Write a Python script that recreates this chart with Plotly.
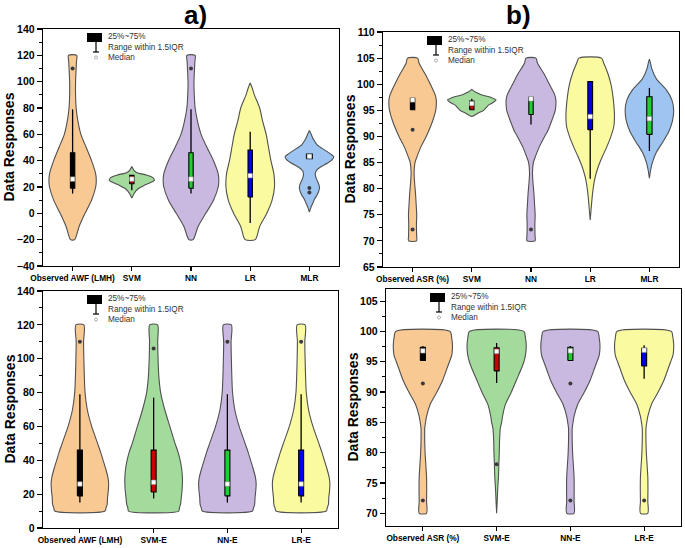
import plotly.graph_objects as go

# ---------------- DATA ----------------
# Panel a) AWF
a_cats = ["Observed AWF (LMH)", "SVM", "NN", "LR", "MLR"]
a_obs_y = [120, 115, 110, 100, 90, 80, 70, 60, 50, 40, 30, 25, 20, 10, 0, -10, -20]
a_obs_w = [0.07, 0.065, 0.06, 0.05, 0.05, 0.06, 0.09, 0.14, 0.23, 0.32, 0.39, 0.40, 0.39, 0.32, 0.21, 0.11, 0.035]
a_svm_y = [35.5, 33, 31, 29, 27, 25, 23, 21, 19, 17, 15, 13, 11.6]
a_svm_w = [0, 0.03, 0.08, 0.25, 0.36, 0.38, 0.30, 0.20, 0.12, 0.07, 0.04, 0.015, 0]
a_nn_y = [120, 115, 110, 100, 90, 80, 70, 60, 50, 40, 30, 25, 20, 10, 0, -10, -20]
a_nn_w = [0.07, 0.065, 0.06, 0.05, 0.055, 0.07, 0.11, 0.17, 0.27, 0.38, 0.46, 0.47, 0.46, 0.38, 0.25, 0.12, 0.035]
a_lr_y = [99, 95, 90, 80, 70, 60, 50, 40, 30, 20, 10, 0, -10, -20]
a_lr_w = [0, 0.035, 0.07, 0.16, 0.21, 0.27, 0.31, 0.35, 0.40, 0.41, 0.37, 0.28, 0.16, 0.085]
a_mlr_y = [63, 60, 56, 52, 48, 45, 43, 41, 38, 35, 32, 29, 26, 23, 20, 17, 14, 11, 8, 5, 1]
a_mlr_w = [0, 0.03, 0.07, 0.13, 0.26, 0.36, 0.41, 0.39, 0.30, 0.18, 0.11, 0.10, 0.12, 0.15, 0.17, 0.16, 0.13, 0.09, 0.06, 0.03, 0]
a_q1 = [19, 22.5, 19, 12.4, 41.5]
a_med = [26, 26, 26, 28.6, 43.3]
a_q3 = [46, 28.8, 46, 48, 45]
a_lo = [15, 17.5, 15, -7.4, 41.5]
a_hi = [79, 29, 79, 62, 45]
a_out = [[110], [], [110], [], [19.2, 15.9]]

# Panel b) ASR
b_cats = ["Observed ASR (%)", "SVM", "NN", "LR", "MLR"]
b_obs_y = [105, 104, 102, 100, 98, 97, 96, 95, 93, 91, 90, 88, 86, 85, 83, 81, 79, 77, 75, 73, 71, 70]
b_obs_w = [0.085, 0.11, 0.21, 0.30, 0.38, 0.40, 0.40, 0.39, 0.34, 0.27, 0.23, 0.14, 0.07, 0.04, 0.025, 0.035, 0.05, 0.06, 0.07, 0.065, 0.068, 0.068]
b_svm_y = [99.0, 98.5, 98.0, 97.5, 97.0, 96.5, 96.0, 95.5, 95.0, 94.5, 94.0, 93.8]
b_svm_w = [0, 0.06, 0.16, 0.32, 0.41, 0.36, 0.28, 0.24, 0.20, 0.11, 0.04, 0]
b_nn_y = [105, 104, 102, 100, 98, 97, 96, 95, 93, 91, 90, 88, 86, 85, 83, 81, 79, 77, 75, 73, 71, 70]
b_nn_w = [0.085, 0.11, 0.22, 0.31, 0.40, 0.42, 0.42, 0.41, 0.35, 0.28, 0.23, 0.14, 0.07, 0.04, 0.025, 0.035, 0.05, 0.06, 0.07, 0.065, 0.068, 0.068]
b_lr_y = [105, 104, 102, 100, 98, 96, 94, 92, 90, 88, 86, 84, 82, 80, 78, 76, 74]
b_lr_w = [0.19, 0.23, 0.30, 0.35, 0.38, 0.40, 0.41, 0.40, 0.35, 0.28, 0.20, 0.13, 0.08, 0.05, 0.03, 0.015, 0]
b_mlr_y = [104.8, 104, 103, 101, 99, 97, 95, 93, 91, 89, 87, 85, 83.5, 82]
b_mlr_w = [0, 0.02, 0.04, 0.12, 0.28, 0.38, 0.41, 0.39, 0.33, 0.23, 0.12, 0.05, 0.02, 0]
b_q1 = [95.1, 95.1, 94.2, 91.3, 90.4]
b_med = [97.0, 96.3, 97.2, 93.8, 93.4]
b_q3 = [97.3, 96.8, 97.5, 100.5, 97.6]
b_lo = [95.1, 95.1, 92.3, 81.9, 87.2]
b_hi = [97.4, 97.2, 97.5, 100.5, 99.3]
b_out = [[91.3, 72.2], [], [72.2], [], []]

# Panel c) AWF ensembles
c_cats = ["Observed AWF (LMH)", "SVM-E", "NN-E", "LR-E"]
c_obs_y = [120, 110, 100, 90, 80, 70, 60, 50, 45, 40, 35, 30, 26, 22, 18, 14, 12, 10]
c_obs_w = [0.055, 0.05, 0.054, 0.06, 0.07, 0.10, 0.16, 0.24, 0.28, 0.315, 0.35, 0.38, 0.39, 0.385, 0.375, 0.37, 0.355, 0.34]
c_svm_y = [120, 110, 100, 90, 80, 70, 60, 50, 45, 40, 35, 30, 26, 22, 18, 14, 12, 10]
c_svm_w = [0.054, 0.055, 0.06, 0.07, 0.095, 0.15, 0.22, 0.29, 0.33, 0.36, 0.38, 0.39, 0.39, 0.385, 0.375, 0.365, 0.35, 0.34]
c_nn_y = c_obs_y
c_nn_w = c_obs_w
c_lr_y = c_obs_y
c_lr_w = c_obs_w
c_q1 = [19, 21.3, 19, 19]
c_med = [26, 27, 26, 26]
c_q3 = [46, 46, 46, 46]
c_lo = [15, 17.5, 15, 15]
c_hi = [79, 77, 79, 79]
c_out = [[110], [106], [110], [110]]

# Panel d) ASR ensembles
d_cats = ["Observed ASR (%)", "SVM-E", "NN-E", "LR-E"]
d_obs_y = [100, 99, 98, 97, 96, 95, 94, 92, 90, 88, 86, 85, 84, 82, 80, 78, 76, 74, 72, 70]
d_obs_w = [0.37, 0.39, 0.40, 0.40, 0.39, 0.36, 0.33, 0.27, 0.19, 0.10, 0.05, 0.036, 0.025, 0.025, 0.03, 0.04, 0.05, 0.052, 0.05, 0.05]
d_svm_y = [100, 99, 98, 97, 96, 95, 94, 92, 90, 88, 86, 85, 84, 82, 80, 78, 76, 74, 72, 70]
d_svm_w = [0.37, 0.39, 0.40, 0.40, 0.39, 0.37, 0.34, 0.27, 0.20, 0.12, 0.08, 0.068, 0.05, 0.04, 0.036, 0.03, 0.025, 0.015, 0.008, 0]
d_nn_y = d_obs_y
d_nn_w = d_obs_w
d_lr_y = d_obs_y
d_lr_w = d_obs_w
d_q1 = [95.2, 93.5, 95.2, 94.3]
d_med = [96.8, 96.7, 96.8, 96.9]
d_q3 = [97.4, 97.3, 97.4, 97.2]
d_lo = [95.2, 91.5, 95.2, 92.2]
d_hi = [97.6, 98.1, 97.6, 97.7]
d_out = [[91.4, 72.1], [78.1], [91.4, 72.1], [72.1]]

# ---------------- STYLE ----------------
VIO_ORANGE = "#F9C994"
VIO_GREEN = "#A3DB9C"
VIO_PURPLE = "#C9B9E0"
VIO_YELLOW = "#FAFAA0"
VIO_BLUE = "#9EC5F1"
BOX_BLACK = "#000000"
BOX_RED = "#CC0000"
BOX_GREEN = "#22CC33"
BOX_BLUE = "#0000EE"
FONT = "Liberation Sans, Arial, sans-serif"

panels = [
    dict(xa="x", ya="y", cats=a_cats,
         prof=[(a_obs_y, a_obs_w), (a_svm_y, a_svm_w), (a_nn_y, a_nn_w), (a_lr_y, a_lr_w), (a_mlr_y, a_mlr_w)],
         vcol=[VIO_ORANGE, VIO_GREEN, VIO_PURPLE, VIO_YELLOW, VIO_BLUE],
         bcol=[BOX_BLACK, BOX_RED, BOX_GREEN, BOX_BLUE, "#FFFFFF"],
         bw=[0.037, 0.037, 0.037, 0.037, 0.05],
         q1=a_q1, med=a_med, q3=a_q3, lo=a_lo, hi=a_hi, out=a_out,
         xdom=[43, 339], ydom=[29, 266], yr=[-40, 140], dt=20, mdt=10),
    dict(xa="x2", ya="y2", cats=b_cats,
         prof=[(b_obs_y, b_obs_w), (b_svm_y, b_svm_w), (b_nn_y, b_nn_w), (b_lr_y, b_lr_w), (b_mlr_y, b_mlr_w)],
         vcol=[VIO_ORANGE, VIO_GREEN, VIO_PURPLE, VIO_YELLOW, VIO_BLUE],
         bcol=[BOX_BLACK, BOX_RED, BOX_GREEN, BOX_BLUE, BOX_GREEN],
         bw=[0.037, 0.037, 0.037, 0.04, 0.045],
         q1=b_q1, med=b_med, q3=b_q3, lo=b_lo, hi=b_hi, out=b_out,
         xdom=[383, 679], ydom=[32, 267], yr=[65, 110], dt=5, mdt=2.5),
    dict(xa="x3", ya="y3", cats=c_cats,
         prof=[(c_obs_y, c_obs_w), (c_svm_y, c_svm_w), (c_nn_y, c_nn_w), (c_lr_y, c_lr_w)],
         vcol=[VIO_ORANGE, VIO_GREEN, VIO_PURPLE, VIO_YELLOW],
         bcol=[BOX_BLACK, BOX_RED, BOX_GREEN, BOX_BLUE],
         bw=[0.034] * 4,
         q1=c_q1, med=c_med, q3=c_q3, lo=c_lo, hi=c_hi, out=c_out,
         xdom=[43, 338], ydom=[291, 528], yr=[0, 140], dt=20, mdt=10),
    dict(xa="x4", ya="y4", cats=d_cats,
         prof=[(d_obs_y, d_obs_w), (d_svm_y, d_svm_w), (d_nn_y, d_nn_w), (d_lr_y, d_lr_w)],
         vcol=[VIO_ORANGE, VIO_GREEN, VIO_PURPLE, VIO_YELLOW],
         bcol=[BOX_BLACK, BOX_RED, BOX_GREEN, BOX_BLUE],
         bw=[0.034] * 4,
         q1=d_q1, med=d_med, q3=d_q3, lo=d_lo, hi=d_hi, out=d_out,
         xdom=[386, 681], ydom=[289, 526], yr=[67.9, 107], dt=5, mdt=2.5),
]

W, H = 685, 548
fig = go.Figure()
layout = dict(width=W, height=H, margin=dict(l=0, r=0, t=0, b=0, autoexpand=False),
              paper_bgcolor="white", plot_bgcolor="white", showlegend=False,
              hovermode=False)
shapes, annotations = [], []

for p in panels:
    xa, ya = p["xa"], p["ya"]
    n = len(p["cats"])
    # violins
    for i, (yy, ww) in enumerate(p["prof"]):
        xs = [i + w for w in ww] + [i - w for w in reversed(ww)] + [i + ww[0]]
        ys = list(yy) + list(reversed(yy)) + [yy[0]]
        fig.add_trace(go.Scatter(x=xs, y=ys, mode="lines", fill="toself",
                                 fillcolor=p["vcol"][i],
                                 line=dict(color="#505050", width=1.1, shape="spline", smoothing=0.7),
                                 xaxis=xa, yaxis=ya, hoverinfo="skip"))
    # whiskers
    wx, wy = [], []
    for i in range(n):
        wx += [i, i, None, i, i, None]
        wy += [p["lo"][i], p["q1"][i], None, p["q3"][i], p["hi"][i], None]
    fig.add_trace(go.Scatter(x=wx, y=wy, mode="lines", line=dict(color="black", width=1.3),
                             xaxis=xa, yaxis=ya, hoverinfo="skip"))
    # boxes (25%-75%)
    for i in range(n):
        b = p["bw"][i]
        fig.add_trace(go.Scatter(x=[i - b, i + b, i + b, i - b, i - b],
                                 y=[p["q1"][i], p["q1"][i], p["q3"][i], p["q3"][i], p["q1"][i]],
                                 mode="lines", fill="toself", fillcolor=p["bcol"][i],
                                 line=dict(color="black", width=1.1),
                                 xaxis=xa, yaxis=ya, hoverinfo="skip"))
    # medians
    fig.add_trace(go.Scatter(x=list(range(n)), y=p["med"], mode="markers",
                             marker=dict(symbol="square", size=4.5, color="white",
                                         line=dict(color="#888888", width=0.6)),
                             xaxis=xa, yaxis=ya, hoverinfo="skip"))
    # outliers
    ox, oy = [], []
    for i, vals in enumerate(p["out"]):
        for v in vals:
            ox.append(i)
            oy.append(v)
    fig.add_trace(go.Scatter(x=ox, y=oy, mode="markers",
                             marker=dict(symbol="circle", size=4, color="#3a3a3a"),
                             xaxis=xa, yaxis=ya, hoverinfo="skip"))

    x0, x1 = p["xdom"]
    y0, y1 = p["ydom"]
    xkey = "xaxis" + xa[1:]
    ykey = "yaxis" + ya[1:]
    layout[xkey] = dict(domain=[x0 / W, x1 / W], anchor=ya, range=[-0.5, n - 0.5],
                        type="linear", tickangle=0, automargin=False, fixedrange=True,
                        tickmode="array", tickvals=list(range(n)), ticktext=p["cats"],
                        showline=True, mirror=True, linecolor="black", linewidth=1.3,
                        ticks="outside", ticklen=4, tickwidth=1.2, tickcolor="black",
                        showgrid=False, zeroline=False,
                        tickfont=dict(family=FONT, size=8.3, color="black", weight="bold"))
    layout[ykey] = dict(domain=[1 - y1 / H, 1 - y0 / H], anchor=xa, range=p["yr"],
                        type="linear", dtick=p["dt"], tick0=0, automargin=False, fixedrange=True,
                        showline=True, mirror=True, linecolor="black", linewidth=1.3,
                        ticks="outside", ticklen=5, tickwidth=1.2, tickcolor="black",
                        minor=dict(ticks="outside", ticklen=3, dtick=p["mdt"], tickcolor="black", tickwidth=1),
                        showgrid=False, zeroline=False,
                        tickfont=dict(family=FONT, size=10.5, color="black", weight="bold"))

    # y-axis title
    annotations.append(dict(text="Data Responses", xref="paper", yref="paper",
                            x=(x0 - 34) / W, y=1 - (y0 + y1) / 2 / H, textangle=-90,
                            showarrow=False, xanchor="center", yanchor="middle",
                            font=dict(family=FONT, size=14, color="black", weight="bold")))

    # legend block
    pw, ph = x1 - x0, y1 - y0
    fx = lambda d: d / pw
    fy = lambda d: 1 - d / ph
    xd, yd = xa + " domain", ya + " domain"
    shapes.append(dict(type="rect", xref=xd, yref=yd, x0=fx(44), x1=fx(59), y0=fy(13), y1=fy(4),
                       fillcolor="black", line=dict(color="black", width=0)))
    shapes.append(dict(type="line", xref=xd, yref=yd, x0=fx(53), x1=fx(53), y0=fy(13), y1=fy(23),
                       line=dict(color="black", width=1.2)))
    shapes.append(dict(type="line", xref=xd, yref=yd, x0=fx(50), x1=fx(56), y0=fy(23), y1=fy(23),
                       line=dict(color="black", width=1.2)))
    shapes.append(dict(type="circle", xref=xd, yref=yd, x0=fx(51.5), x1=fx(54.5), y0=fy(30), y1=fy(27),
                       fillcolor="white", line=dict(color="#999999", width=0.8)))
    for txt, dy in [("25%~75%", 7.5), ("Range within 1.5IQR", 18.5), ("Median", 28.5)]:
        annotations.append(dict(text=txt, xref=xd, yref=yd, x=fx(63), y=fy(dy),
                                xanchor="left", yanchor="middle", showarrow=False,
                                font=dict(family=FONT, size=8.2, color="#333333")))

annotations.append(dict(text="a)", xref="paper", yref="paper", x=195 / W, y=1 - 15 / H,
                        showarrow=False, xanchor="center", yanchor="middle",
                        font=dict(family=FONT, size=26, color="black", weight="bold")))
annotations.append(dict(text="b)", xref="paper", yref="paper", x=518 / W, y=1 - 15 / H,
                        showarrow=False, xanchor="center", yanchor="middle",
                        font=dict(family=FONT, size=26, color="black", weight="bold")))

layout["shapes"] = shapes
layout["annotations"] = annotations
fig.update_layout(**layout)
fig.write_html("out.html", config={"displayModeBar": False, "staticPlot": True},
               post_script="document.body.style.margin='0px';")
